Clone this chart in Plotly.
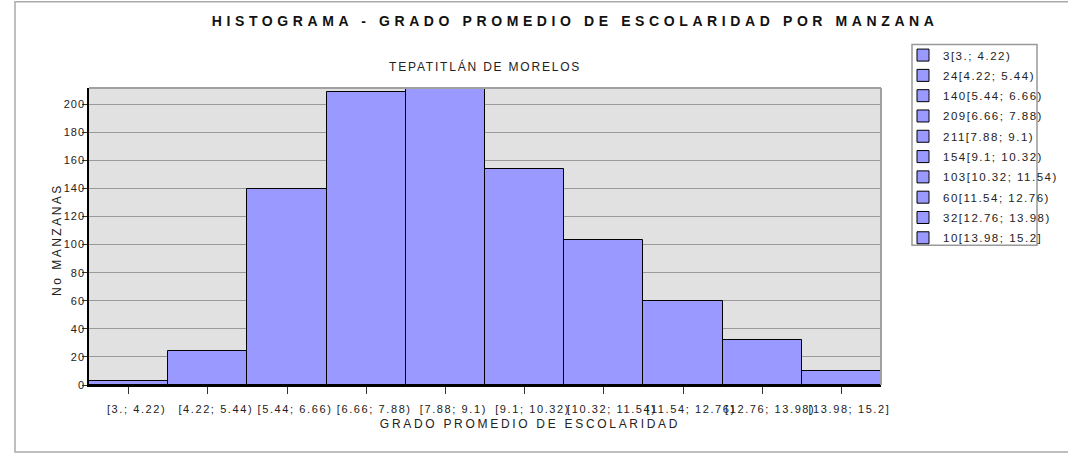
import plotly.graph_objects as go

intervals = ["[3.; 4.22)", "[4.22; 5.44)", "[5.44; 6.66)", "[6.66; 7.88)", "[7.88; 9.1)",
             "[9.1; 10.32)", "[10.32; 11.54)", "[11.54; 12.76)", "[12.76; 13.98)", "[13.98; 15.2]"]
counts = [3, 24, 140, 209, 211, 154, 103, 60, 32, 10]
positions = list(range(len(intervals)))

W, H = 1068, 458
L, R, T, B = 89, 881, 87.5, 385

def px_x(p):
    return (p - L) / (R - L)

def px_y(p):
    return (B - p) / (B - T)

fig = go.Figure()
for i, (pos, c, iv) in enumerate(zip(positions, counts, intervals)):
    fig.add_trace(go.Bar(
        x=[pos], y=[c], name=f"{c}{iv}", width=1, legendgroup=f"g{i}",
        marker=dict(color="#9999ff", line=dict(color="#000000", width=1)),
        showlegend=True,
    ))

font_family = "Liberation Sans, Arial, sans-serif"

fig.update_layout(
    width=W, height=H,
    margin=dict(l=L, r=W - R, t=T, b=H - B, pad=0),
    paper_bgcolor="white",
    plot_bgcolor="#e1e1e1",
    barmode="overlay",
    bargap=0,
    font=dict(family=font_family, size=11, color="#222"),
    showlegend=True,
    legend=dict(
        x=px_x(903), y=px_y(40), xanchor="left", yanchor="top",
        bgcolor="rgba(0,0,0,0)", borderwidth=0,
        font=dict(size=11.5, color="#222"), tracegroupgap=1.3,
        itemwidth=30, traceorder="grouped",
    ),
    xaxis=dict(
        range=[-0.5, 9.5], tickvals=positions, ticktext=intervals,
        ticks="outside", ticklen=7, tickcolor="#333", showgrid=False,
        ticklabelstandoff=6, ticklabelshift=8,
        showline=True, linecolor="#000", linewidth=1.5, zeroline=False,
        tickfont=dict(size=11, color="#222"),
    ),
    yaxis=dict(
        range=[0, 211.6], tickvals=list(range(0, 201, 20)),
        ticks="outside", ticklen=5, tickcolor="#333",
        ticklabelstandoff=-5,
        showgrid=True, gridcolor="#9a9a9a", gridwidth=1,
        showline=True, linecolor="#000", linewidth=1.5, zeroline=False,
        tickfont=dict(size=11, color="#222"),
    ),
    annotations=[
        dict(text="<b>HISTOGRAMA - GRADO PROMEDIO DE ESCOLARIDAD POR MANZANA</b>",
             xref="paper", yref="paper", x=px_x(575), y=px_y(20), xanchor="center", yanchor="middle",
             showarrow=False, font=dict(size=14, color="#111")),
        dict(text="TEPATITLÁN DE MORELOS",
             xref="paper", yref="paper", x=px_x(485), y=px_y(66), xanchor="center", yanchor="middle",
             showarrow=False, font=dict(size=12, color="#222")),
        dict(text="GRADO PROMEDIO DE ESCOLARIDAD",
             xref="paper", yref="paper", x=px_x(530), y=px_y(424), xanchor="center", yanchor="middle",
             showarrow=False, font=dict(size=12, color="#222")),
        dict(text="No MANZANAS", textangle=-90,
             xref="paper", yref="paper", x=px_x(57), y=px_y(240), xanchor="center", yanchor="middle",
             showarrow=False, font=dict(size=12, color="#222")),
    ],
    shapes=[
        dict(type="rect", xref="paper", yref="paper", layer="below",
             x0=px_x(15), x1=px_x(1075), y0=px_y(452), y1=px_y(1),
             line=dict(color="#aaaaaa", width=1.5), fillcolor="rgba(0,0,0,0)"),
        dict(type="rect", xref="paper", yref="paper", layer="below",
             x0=px_x(912), x1=px_x(1037), y0=px_y(245), y1=px_y(44),
             line=dict(color="#999999", width=1.5), fillcolor="white"),
        dict(type="line", xref="paper", yref="paper", x0=0, x1=1, y0=1, y1=1,
             line=dict(color="#a0a0a0", width=2)),
        dict(type="line", xref="paper", yref="paper", x0=1, x1=1, y0=0, y1=1,
             line=dict(color="#a0a0a0", width=2)),
    ],
)

post = """
document.body.style.margin = '0';
var gd = document.getElementById('{plot_id}');
function ls(sel, v) { gd.querySelectorAll(sel).forEach(function (e) { e.style.letterSpacing = v; }); }
var sp = ['4.6px', '1.8px', '2.7px', '2.5px'];
gd.querySelectorAll('.annotation-text').forEach(function (e, i) { e.style.letterSpacing = sp[i] || '0px'; });
ls('.xtick text', '1.6px');
ls('.ytick text', '1px');
ls('.legendtext', '1.5px');
gd.querySelectorAll('.legend .scrollbox, .legend').forEach(function (e) { e.removeAttribute('clip-path'); });
"""

fig.write_html("out.html", post_script=post, config={"displayModeBar": False})
